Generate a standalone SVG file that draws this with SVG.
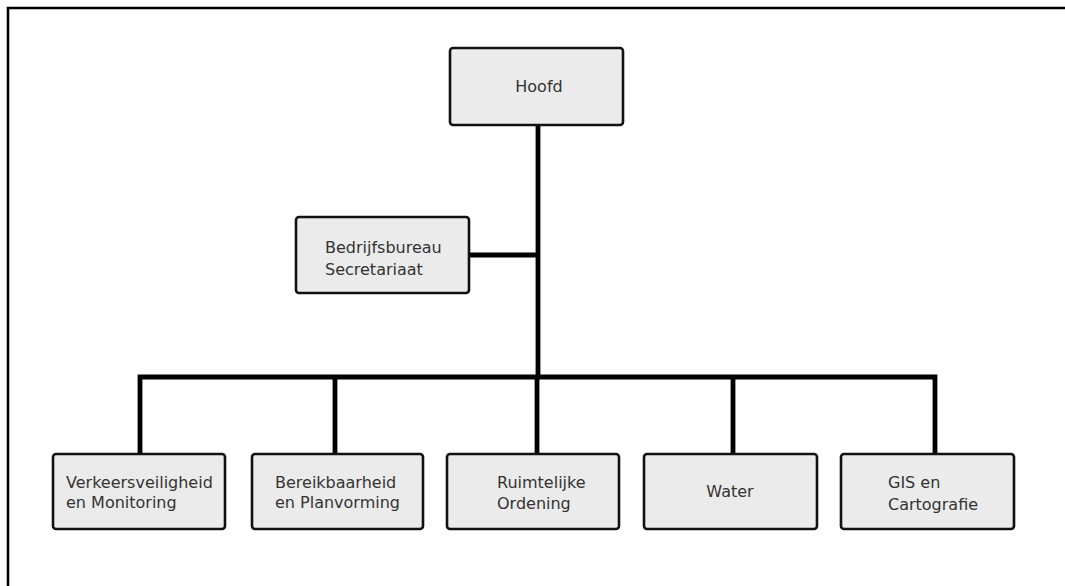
<svg xmlns="http://www.w3.org/2000/svg" width="1065" height="586" viewBox="0 0 1065 586">
  <style>
    .box { fill: #ebebeb; stroke: #111; stroke-width: 2.6; }
    .lbl { font-family: "DejaVu Sans", Verdana, sans-serif; font-size: 16px; fill: #333; }
    .wire { stroke: #000; stroke-width: 4.8; fill: none; stroke-linejoin: miter; }
    .frame { stroke: #000; stroke-width: 2.6; fill: none; }
  </style>
  <rect width="1065" height="586" fill="#fff"/>
  <!-- page frame, open at right and bottom -->
  <path class="frame" d="M8,586 V8 H1065"/>

  <g id="connectors">
    <path class="wire" d="M538,125 V377"/>
    <path class="wire" d="M469,255 H538"/>
    <path class="wire" d="M140,454 V377 H935 V454"/>
    <path class="wire" d="M335,377 V454"/>
    <path class="wire" d="M537,377 V454"/>
    <path class="wire" d="M733,377 V454"/>
  </g>

  <g id="hoofd">
    <rect class="box" x="450" y="48" width="173" height="77" rx="3"/>
    <text class="lbl" x="539" y="92" text-anchor="middle">Hoofd</text>
  </g>

  <g id="bedrijfsbureau">
    <rect class="box" x="296" y="217" width="173" height="76" rx="3"/>
    <text class="lbl" x="325" y="253">Bedrijfsbureau</text>
    <text class="lbl" x="325" y="275">Secretariaat</text>
  </g>

  <g id="verkeersveiligheid">
    <rect class="box" x="53" y="454" width="172" height="75" rx="3"/>
    <text class="lbl" x="66" y="488">Verkeersveiligheid</text>
    <text class="lbl" x="66" y="508">en Monitoring</text>
  </g>

  <g id="bereikbaarheid">
    <rect class="box" x="252" y="454" width="171" height="75" rx="3"/>
    <text class="lbl" x="275" y="488">Bereikbaarheid</text>
    <text class="lbl" x="275" y="508">en Planvorming</text>
  </g>

  <g id="ruimtelijke-ordening">
    <rect class="box" x="447" y="454" width="172" height="75" rx="3"/>
    <text class="lbl" x="497" y="488">Ruimtelijke</text>
    <text class="lbl" x="497" y="509">Ordening</text>
  </g>

  <g id="water">
    <rect class="box" x="644" y="454" width="173" height="75" rx="3"/>
    <text class="lbl" x="730" y="497" text-anchor="middle">Water</text>
  </g>

  <g id="gis-cartografie">
    <rect class="box" x="841" y="454" width="173" height="75" rx="3"/>
    <text class="lbl" x="888" y="488">GIS en</text>
    <text class="lbl" x="888" y="510">Cartografie</text>
  </g>
</svg>
